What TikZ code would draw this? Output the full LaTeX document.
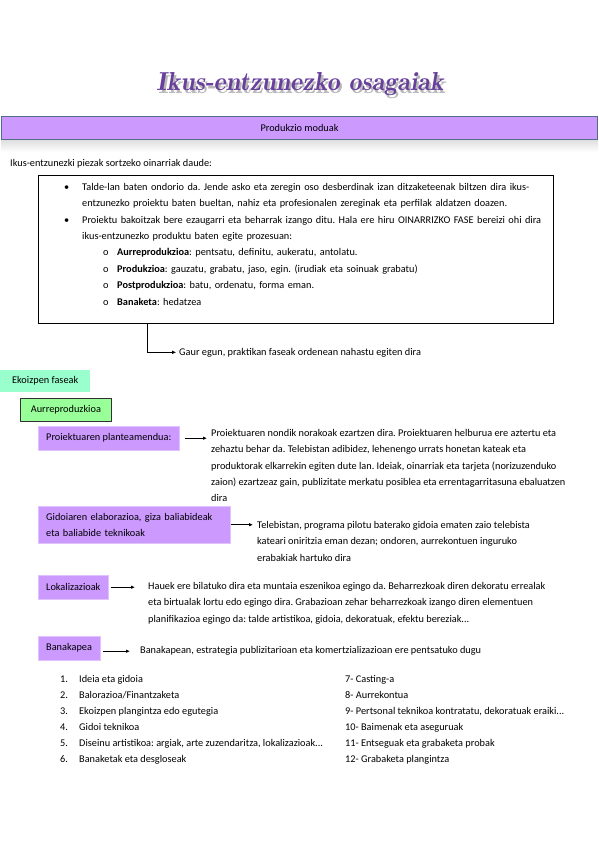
\documentclass[tikz,border=0pt]{standalone}
\usepackage{fontspec}
\setmainfont{Carlito}
\usetikzlibrary{positioning,arrows.meta}
\frenchspacing

\definecolor{barpurple}{RGB}{204,153,255}
\definecolor{barborder}{RGB}{80,110,140}
\definecolor{phasepurple}{RGB}{204,153,255}
\definecolor{mintgreen}{RGB}{153,255,204}
\definecolor{lightgreen}{RGB}{153,255,153}
\definecolor{titlepurple}{RGB}{104,64,156}

\newcommand{\bulA}{\makebox[44pt][l]{\hspace{26pt}\textbullet}}
\newcommand{\indA}{\hspace*{44pt}}
\newcommand{\bulB}{\makebox[79pt][l]{\hspace{65pt}o}}
\newcommand{\titletxt}{Ikus-entzunezko osagaiak}

\begin{document}
\begin{tikzpicture}
  [x=1pt,y=-1pt,
   bodytext/.style={anchor=north west,inner sep=0pt,align=left,
                    font=\fontsize{10.3}{16.4}\selectfont},
   oneline/.style={anchor=base west,inner sep=0pt,font=\fontsize{10.3}{12}\selectfont},
   phaseN/.style={anchor=north west,fill=phasepurple,draw=phasepurple!60!white,
                  inner xsep=8pt,minimum height=24pt,align=left,
                  font=\fontsize{10.3}{16.4}\selectfont},
   link/.style={-{Latex[length=4pt,width=3.5pt]},line width=0.9pt}
  ]
  \useasboundingbox (0,0) rectangle (599,848);

  % title
  \node[font={\fontfamily{lmr}\fontsize{26}{30}\bfseries\itshape\selectfont}]
    (title) at (300,86)
    {\makebox[0pt][l]{\hspace{2pt}\raisebox{-3pt}{\textcolor{gray!55}{\titletxt}}}\textcolor{titlepurple}{\titletxt}};

  % header bar
  \shade[top color=gray!25,bottom color=white] (1,140) rectangle (598,152);
  \node[fill=barpurple,draw=barborder,line width=1.5pt,minimum width=596pt,
        minimum height=23pt,inner sep=0pt,font=\fontsize{10.3}{12}\selectfont]
    (bar) at (299.5,128) {Produkzio moduak};

  \node[oneline] (intro) at (10,166) {Ikus-entzunezki piezak sortzeko oinarriak daude:};

  % box with the phases
  \node[draw,thin,anchor=north west,minimum width=515pt,minimum height=148pt,inner sep=0pt]
    (fasebox) at (38,175) {};
  \node[bodytext,text width=515pt] (fasetext) at (38,183) {%
    \bulA Talde-lan baten ondorio da. Jende asko eta zeregin oso desberdinak izan ditzaketeenak biltzen dira ikus-\\
    \indA entzunezko proiektu baten bueltan, nahiz eta profesionalen zereginak eta perfilak aldatzen doazen.\\
    \bulA Proiektu bakoitzak bere ezaugarri eta beharrak izango ditu. Hala ere hiru OINARRIZKO FASE bereizi ohi dira\\
    \indA ikus-entzunezko produktu baten egite prozesuan:\\
    \bulB\textbf{Aurreprodukzioa}: pentsatu, definitu, aukeratu, antolatu.\\
    \bulB\textbf{Produkzioa}: gauzatu, grabatu, jaso, egin. (irudiak eta soinuak grabatu)\\
    \bulB\textbf{Postprodukzioa}: batu, ordenatu, forma eman.\\
    \bulB\textbf{Banaketa}: hedatzea};

  \node[oneline] (gaur) at (179,355) {Gaur egun, praktikan faseak ordenean nahastu egiten dira};
  \draw[-{Latex[length=4pt,width=3.5pt]},thin] ([xshift=109pt]fasebox.south west) |- ([xshift=-3pt]gaur.west);

  % phases
  \node[anchor=north west,fill=mintgreen,minimum width=90pt,minimum height=22pt,
        inner sep=0pt,font=\fontsize{10.3}{12}\selectfont] (ekoizpen) at (0,370) {Ekoizpen faseak};
  \node[anchor=north west,fill=lightgreen,draw=black!80,thick,minimum width=91pt,
        minimum height=23pt,inner sep=0pt,font=\fontsize{10.3}{12}\selectfont] (aurre) at (20,398) {Aurreproduzkioa};

  \node[phaseN] (plan) at (38,426) {Proiektuaren planteamendua:};
  \node[bodytext] (plantext) at (211,429) {%
    Proiektuaren nondik norakoak ezartzen dira. Proiektuaren helburua ere aztertu eta\\
    zehaztu behar da. Telebistan adibidez, lehenengo urrats honetan kateak eta\\
    produktorak elkarrekin egiten dute lan. Ideiak, oinarriak eta tarjeta (norizuzenduko\\
    zaion) ezartzeaz gain, publizitate merkatu posiblea eta errentagarritasuna ebaluatzen\\
    dira};
  \draw[link] ([xshift=5pt]plan.east) -- ([xshift=-4pt]plan.east -| plantext.west);

  \node[phaseN,minimum height=37pt,text width=176pt] (gidoi) at (38,506)
    {Gidoiaren elaborazioa, giza baliabideak\\eta baliabide teknikoak};
  \node[bodytext] (gidoitext) at (257,521) {%
    Telebistan, programa pilotu baterako gidoia ematen zaio telebista\\
    kateari oniritzia eman dezan; ondoren, aurrekontuen inguruko\\
    erabakiak hartuko dira};
  \draw[link] ([xshift=1pt]gidoi.east) -- ([xshift=-4pt]gidoi.east -| gidoitext.west);

  \node[phaseN] (lokal) at (38,575) {Lokalizazioak};
  \node[bodytext] (lokaltext) at (148,582) {%
    Hauek ere bilatuko dira eta muntaia eszenikoa egingo da. Beharrezkoak diren dekoratu errealak\\
    eta birtualak lortu edo egingo dira. Grabazioan zehar beharrezkoak izango diren elementuen\\
    planifikazioa egingo da: talde artistikoa, gidoia, dekoratuak, efektu bereziak...};
  \draw[link] ([xshift=2pt]lokal.east) -- ([xshift=-13pt]lokal.east -| lokaltext.west);

  \node[phaseN] (banak) at (38,636) {Banakapea};
  \node[oneline] (banaktext) at (140,653) {Banakapean, estrategia publizitarioan eta komertzializazioan ere pentsatuko dugu};
  \draw[link] ([xshift=3pt,yshift=-3pt]banak.east) -- ([xshift=-10pt,yshift=-3pt]banak.east -| banaktext.west);

  % numbered steps
  \foreach \lefttxt/\righttxt [count=\i] in {
      {Ideia eta gidoia}/{7- Casting-a},
      {Balorazioa/Finantzaketa}/{8- Aurrekontua},
      {Ekoizpen plangintza edo egutegia}/{9- Pertsonal teknikoa kontratatu, dekoratuak eraiki...},
      {Gidoi teknikoa}/{10- Baimenak eta aseguruak},
      {Diseinu artistikoa: argiak, arte zuzendaritza, lokalizazioak...}/{11- Entseguak eta grabaketa probak},
      {Banaketak eta desgloseak}/{12- Grabaketa plangintza}} {
    \node[oneline] (num\i) at (60,{682+16*(\i-1)}) {\i.};
    \node[oneline] (step\i) at (79,{682+16*(\i-1)}) {\lefttxt};
    \node[oneline] (stepb\i) at (345,{682+16*(\i-1)}) {\righttxt};
  }

\end{tikzpicture}
\end{document}
